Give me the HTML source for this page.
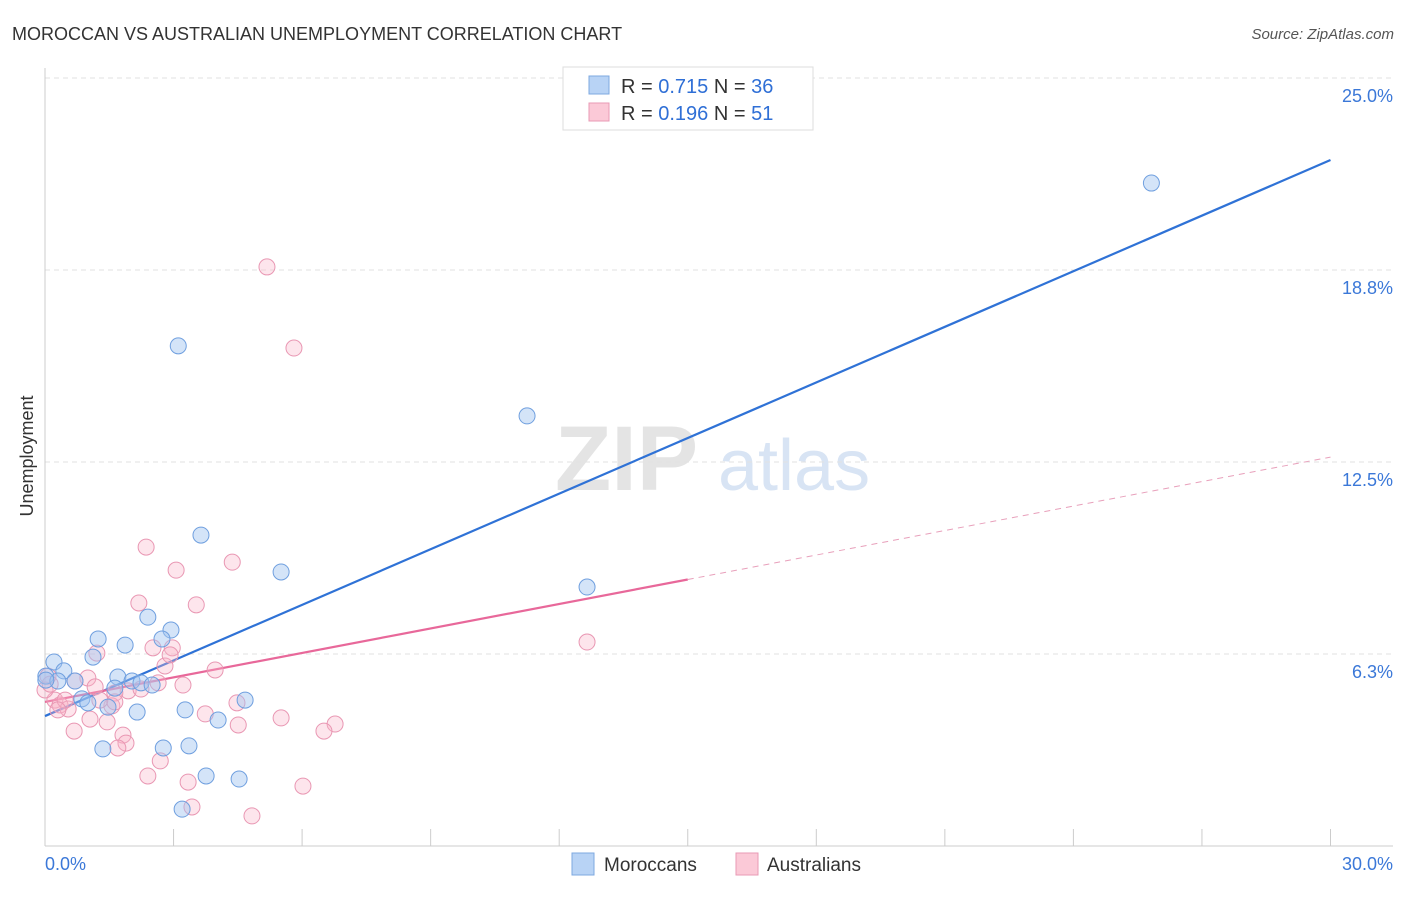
<!DOCTYPE html>
<html><head><meta charset="utf-8"><style>
body{margin:0;background:#fff;font-family:"Liberation Sans",sans-serif;}
svg text{font-family:"Liberation Sans",sans-serif;}
</style></head><body>
<svg id="chart" width="1406" height="892" xmlns="http://www.w3.org/2000/svg">
<text x="12" y="40" font-size="18" fill="#333">MOROCCAN VS AUSTRALIAN UNEMPLOYMENT CORRELATION CHART</text>
<text x="1394" y="39" font-size="15" fill="#555" font-style="italic" text-anchor="end">Source: ZipAtlas.com</text>
<text x="555" y="490" font-size="92" fill="#e4e4e4" font-family="Liberation Serif" font-weight="bold">ZIP</text>
<text x="718" y="490" font-size="72" fill="#d8e4f4">atlas</text>
<text transform="translate(33,456) rotate(-90)" font-size="18" fill="#333" text-anchor="middle">Unemployment</text>
<g id="grid"></g><g id="lines"></g><g id="pts"></g>
<g>
<rect x="563" y="67" width="250" height="63" fill="#fff" stroke="#ddd"/>
<rect x="589" y="76" width="20" height="18" fill="#b8d3f5" stroke="#7ea8e0"/>
<text x="621" y="93" font-size="20" fill="#333">R = <tspan fill="#2f6fd6">0.715</tspan>   N = <tspan fill="#2f6fd6">36</tspan></text>
<rect x="589" y="103" width="20" height="18" fill="#fbc9d7" stroke="#e89ab4"/>
<text x="621" y="120" font-size="20" fill="#333">R = <tspan fill="#2f6fd6">0.196</tspan>   N =  <tspan fill="#2f6fd6">51</tspan></text>
</g>
<g>
<rect x="572" y="853" width="22" height="22" fill="#b8d3f5" stroke="#7ea8e0"/>
<text x="604" y="871" font-size="19" fill="#333">Moroccans</text>
<rect x="736" y="853" width="22" height="22" fill="#fbc9d7" stroke="#e89ab4"/>
<text x="767" y="871" font-size="19" fill="#333">Australians</text>
</g>
</svg>
<script>
const yTicks=[25,18.75,12.5,6.25];
const yTickLabels=["25.0%","18.8%","12.5%","6.3%"];
const xTicks=[0,3,6,9,12,15,18,21,24,27,30];
const blueX=[25.82,3.11,11.25,3.64,5.51,12.65,2.40,2.94,1.24,1.87,2.73,1.12,0.21,0.44,0.02,0.30,0.70,1.70,2.03,2.24,2.50,1.63,0.86,1.00,1.47,2.15,3.27,4.67,4.04,2.76,3.36,1.35,3.76,4.53,3.20,0.02];
const blueY=[21.58,16.28,14.0,10.12,8.92,8.43,7.45,7.03,6.74,6.54,6.74,6.15,5.99,5.70,5.53,5.37,5.37,5.50,5.37,5.31,5.24,5.14,4.79,4.66,4.52,4.36,4.43,4.75,4.10,3.19,3.26,3.16,2.28,2.18,1.20,5.40];
const pinkX=[5.18,5.81,2.36,3.06,4.37,2.19,3.53,2.52,2.97,1.21,2.80,12.65,3.97,3.22,1.00,0.70,1.17,1.94,2.24,2.64,1.63,0.07,0.23,0.35,0.54,1.56,4.48,3.74,1.05,1.45,4.51,5.51,6.77,6.51,0.68,1.82,1.89,1.70,2.69,2.40,3.34,6.02,3.43,4.83,0,0.12,0.47,1.28,1.63,2.92,0.30];
const pinkY=[18.85,16.21,9.73,8.98,9.24,7.91,7.85,6.45,6.45,6.28,5.86,6.64,5.73,5.24,5.47,5.37,5.18,5.05,5.11,5.31,4.98,5.53,4.75,4.59,4.46,4.56,4.66,4.30,4.13,4.04,3.94,4.17,3.97,3.74,3.74,3.61,3.35,3.19,2.77,2.28,2.08,1.95,1.27,0.98,5.08,5.27,4.75,4.75,4.69,6.22,4.43];
const blueFit=[4.23,22.33];
const pinkFit=[4.69,12.66];
const pinkSolidEnd=15;
const NS="http://www.w3.org/2000/svg";
const X=v=>45+v*42.85, Y=v=>846-v*30.72;
function mk(p,t,a){const e=document.createElementNS(NS,t);for(const k in a)e.setAttribute(k,a[k]);p.appendChild(e);return e;}
const g=document.getElementById('grid');
yTicks.forEach((t,i)=>{
 const l=mk(g,'line',{x1:45,x2:1393,y1:Y(t),y2:Y(t),stroke:'#e2e2e2','stroke-dasharray':'5,4'});
 
 
 const tx=mk(g,'text',{x:1393,y:Y(t)+24,'font-size':18,fill:'#3b78d8','text-anchor':'end'});tx.textContent=yTickLabels[i];
 
 
});
const ax=mk(g,'line',{x1:45,x2:45,y1:68,y2:846,stroke:'#ccc'});


const bx=mk(g,'line',{x1:45,x2:1393,y1:846,y2:846,stroke:'#ccc'});


xTicks.forEach(t=>{const l=mk(g,'line',{x1:X(t),x2:X(t),y1:829,y2:846,stroke:'#ccc'});
 
 });
const x0=mk(g,'text',{x:45,y:870,'font-size':18,fill:'#3b78d8'});x0.textContent="0.0%";


const x1=mk(g,'text',{x:1393,y:870,'font-size':18,fill:'#3b78d8','text-anchor':'end'});x1.textContent="30.0%";


const pg=document.getElementById('pts');
function pts(xs,ys,fill,stroke,name){xs.forEach((x,i)=>{const c=mk(pg,'circle',{cx:X(x),cy:Y(ys[i]),r:8,fill:fill,stroke:stroke,'stroke-width':1});
 
 });}
pts(pinkX,pinkY,'rgba(248,180,200,0.35)','#e997b3','australian-point');
pts(blueX,blueY,'rgba(160,196,240,0.45)','#6f9fdf','moroccan-point');
const lg=document.getElementById('lines');
const pf=v=>pinkFit[0]+(pinkFit[1]-pinkFit[0])*v/30;
const bl=mk(lg,'line',{x1:X(0),y1:Y(blueFit[0]),x2:X(30),y2:Y(blueFit[1]),stroke:'#2f72d6','stroke-width':2.2});


const pl=mk(lg,'line',{x1:X(0),y1:Y(pf(0)),x2:X(pinkSolidEnd),y2:Y(pf(pinkSolidEnd)),stroke:'#e8689a','stroke-width':2.2});


const pd=mk(lg,'line',{x1:X(pinkSolidEnd),y1:Y(pf(pinkSolidEnd)),x2:X(30),y2:Y(pf(30)),stroke:'#e8a0bb','stroke-width':1,'stroke-dasharray':'6,5'});


</script>
</body></html>
